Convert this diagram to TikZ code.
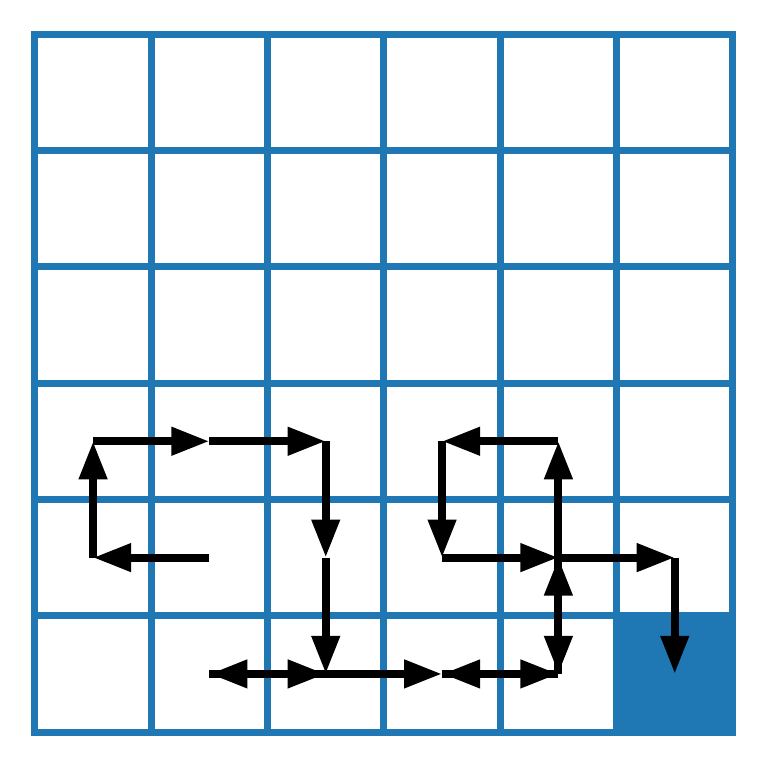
\documentclass[tikz,border=0pt]{standalone}
\usetikzlibrary{arrows.meta}
\definecolor{cellblue}{HTML}{1F77B4}
\definecolor{ink}{HTML}{000000}
\newcommand{\Cells}{6}

\begin{document}
\begin{tikzpicture}[x=1cm, y=1cm,
    gridline/.style={draw=cellblue, line width=1.72pt, line cap=rect},
    move/.style={-{Triangle[length=3.27mm, width=2.3mm]}, line width=1.95pt, draw=ink},
  ]
% --- Canvas ---------------------------------------------------------------------
\useasboundingbox (-0.30,-0.30) rectangle (6.293,6.293);

% --- Goal cell and grid ---------------------------------------------------------
\fill[cellblue] (5,0) rectangle (6,1);
\foreach \i in {0,...,\Cells} {
  \draw[gridline] (\i,0) -- (\i,\Cells);
  \draw[gridline] (0,\i) -- (\Cells,\i);
}

% --- Cell centres ---------------------------------------------------------------
\foreach \c in {0,...,5} {
  \foreach \r in {0,...,5} {
    \coordinate (c\c r\r) at (\c+0.5,\r+0.5);
  }
}

% --- Moves (drawn last) ---------------------------------------------------------
\foreach \a/\b in {c1r1/c0r1, c0r1/c0r2, c0r2/c1r2, c1r2/c2r2, c2r2/c2r1,
    c2r1/c2r0, c2r0/c1r0, c1r0/c2r0, c2r0/c3r0, c4r0/c3r0, c3r0/c4r0,
    c4r0/c4r1, c4r1/c4r0, c4r1/c4r2, c4r2/c3r2, c3r2/c3r1, c3r1/c4r1,
    c4r1/c5r1, c5r1/c5r0}
  \draw[move] (\a) -- (\b);
\end{tikzpicture}
\end{document}
